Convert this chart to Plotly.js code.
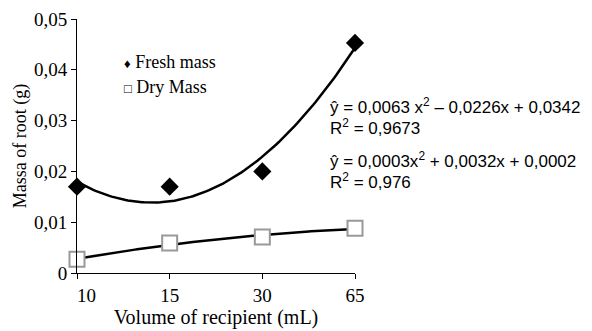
<!DOCTYPE html>
<html>
<head>
<meta charset="utf-8">
<script src="https://cdn.plot.ly/plotly-3.0.1.min.js"></script>
<style>html,body{margin:0;padding:0;background:#fff;}#chart{width:592px;height:331px;}</style>
</head>
<body>
<div id="chart"></div>
<script>
// Data
const categories = ['10', '15', '30', '65'];
const freshMass = [0.0170, 0.0170, 0.0200, 0.0453];
const dryMass = [0.0027, 0.0059, 0.0071, 0.0088];
const yTickVals = [0, 0.01, 0.02, 0.03, 0.04, 0.05];
const yTickText = ['0', '0,01', '0,02', '0,03', '0,04', '0,05'];
const eqFresh = 'ŷ = 0,0063 x<sup>2</sup> – 0,0226x + 0,0342';
const r2Fresh = 'R<sup>2</sup> = 0,9673';
const eqDry = 'ŷ = 0,0003x<sup>2</sup> + 0,0032x + 0,0002';
const r2Dry = 'R<sup>2</sup> = 0,976';

const xIdx = categories.map((_, i) => i);
// first label sits slightly right of its tick in the reference
const xTickText = categories.map((c, i) => i === 0 ? '\u00a0\u00a0\u00a0\u00a0' + c : c);

// Least-squares quadratic trendline (x = 1..n as in spreadsheet trendlines)
function quadFit(ys) {
  const n = ys.length;
  let S = [0,0,0,0,0], T = [0,0,0];
  for (let i = 0; i < n; i++) {
    const x = i + 1;
    for (let k = 0; k <= 4; k++) S[k] += Math.pow(x, k);
    for (let k = 0; k <= 2; k++) T[k] += Math.pow(x, k) * ys[i];
  }
  const M = [[S[0],S[1],S[2],T[0]],[S[1],S[2],S[3],T[1]],[S[2],S[3],S[4],T[2]]];
  for (let i = 0; i < 3; i++) {
    for (let j = i + 1; j < 3; j++) {
      const f = M[j][i] / M[i][i];
      for (let k = i; k < 4; k++) M[j][k] -= f * M[i][k];
    }
  }
  const sol = [0,0,0];
  for (let i = 2; i >= 0; i--) {
    let s = M[i][3];
    for (let k = i + 1; k < 3; k++) s -= M[i][k] * sol[k];
    sol[i] = s / M[i][i];
  }
  return sol; // [c, b, a]
}
function curve(ys) {
  const [c, b, a] = quadFit(ys);
  const xs = [], yv = [];
  const steps = 120;
  for (let s = 0; s <= steps; s++) {
    const xi = (ys.length - 1) * s / steps;
    const x = xi + 1;
    xs.push(xi);
    yv.push(a * x * x + b * x + c);
  }
  return {xs, yv};
}
const cf = curve(freshMass);
const cd = curve(dryMass);

const serif = 'Liberation Serif, Times New Roman, serif';
const sans = 'Liberation Sans, Arial, sans-serif';

const traces = [
  {x: cf.xs, y: cf.yv, mode: 'lines', line: {color: '#000', width: 2.5}, hoverinfo: 'skip', showlegend: false},
  {x: cd.xs, y: cd.yv, mode: 'lines', line: {color: '#000', width: 2.5}, hoverinfo: 'skip', showlegend: false},
  {x: xIdx, y: freshMass, mode: 'markers', name: 'Fresh mass', cliponaxis: false,
   marker: {symbol: 'diamond', size: 14, color: '#000'}, showlegend: false},
  {x: xIdx, y: dryMass, mode: 'markers', name: 'Dry Mass', cliponaxis: false,
   marker: {symbol: 'square', size: 15, color: '#fff', line: {color: '#999', width: 2}}, showlegend: false}
];

function ann(text, y, font, x) {
  return {text: text, xref: 'paper', yref: 'paper', x: x, y: y, xanchor: 'left', yanchor: 'middle',
          showarrow: false, font: font, align: 'left'};
}
// plot area: x 77..355, y 19..273
const H = 254, T0 = 19;
const py = (pix) => 1 - (pix - T0) / H;
const px = (pix) => (pix - 77) / 278;
const eqFont = {family: sans, size: 17, color: '#000'};
const legFont = {family: serif, size: 18, color: '#000'};

const layout = {
  width: 592, height: 331,
  margin: {l: 77, r: 237, t: 19, b: 58},
  paper_bgcolor: '#fff', plot_bgcolor: '#fff',
  showlegend: false,
  font: {family: serif, size: 18, color: '#000'},
  xaxis: {
    range: [0, 3], tickvals: xIdx, ticktext: xTickText,
    showgrid: false, zeroline: false, showline: true, linecolor: '#000', linewidth: 1,
    ticks: 'outside', ticklen: 5, tickcolor: '#000',
    tickfont: {family: serif, size: 19, color: '#000'},
    title: {text: 'Volume of recipient (mL)', font: {family: serif, size: 20, color: '#000'}, standoff: 3}
  },
  yaxis: {
    range: [0, 0.05], tickvals: yTickVals, ticktext: yTickText,
    showgrid: false, zeroline: false, showline: true, linecolor: '#000', linewidth: 1,
    ticks: 'outside', ticklen: 5, tickcolor: '#000',
    tickfont: {family: serif, size: 19, color: '#000'},
    title: {text: 'Massa of root (g)', font: {family: serif, size: 18, color: '#000'}, standoff: 2}
  },
  annotations: [
    ann('<span style="font-size:13px">♦</span> Fresh mass', py(62), legFont, px(122)),
    ann('<span style="font-size:13px">□</span> Dry Mass', py(87), legFont, px(122)),
    ann(eqFresh, py(106), eqFont, px(328)),
    ann(r2Fresh, py(127), eqFont, px(328)),
    ann(eqDry, py(160), eqFont, px(328)),
    ann(r2Dry, py(181), eqFont, px(328))
  ]
};

Plotly.newPlot('chart', traces, layout, {displayModeBar: false, staticPlot: true});
</script>
</body>
</html>
